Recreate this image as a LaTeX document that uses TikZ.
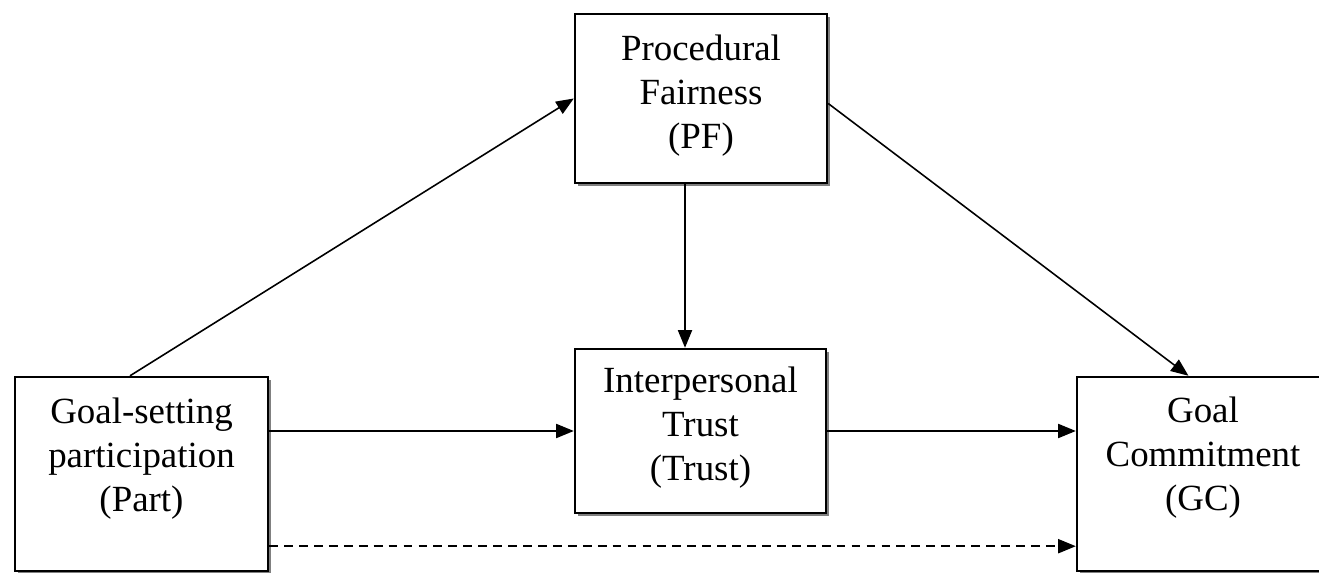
\documentclass[tikz,border=0pt]{standalone}
\usepackage{fontspec}
\setmainfont{Liberation Serif}
\usetikzlibrary{arrows.meta,shadows}

\tikzset{
    box/.style={draw, line width=1.4pt, fill=white, rectangle,
        drop shadow={shadow xshift=1.6pt, shadow yshift=-1.6pt, fill=black!50, opacity=1}},
    lbl/.style={align=center, font=\fontsize{21}{25}\selectfont, inner sep=0pt},
    link/.style={line width=0.9pt, -{Triangle[length=10pt,width=8pt]}}
}

\begin{document}
\begin{tikzpicture}[x=0.02cm, y=-0.02cm]
\useasboundingbox[fill=white] (0,0) rectangle (1319,573);

\node[box, minimum width=5.04cm, minimum height=3.38cm] (pf) at (701,98.5) {};
\node[lbl] (pftext) at (701,96) {Procedural\\Fairness\\(PF)};
\node[box, minimum width=5.02cm, minimum height=3.28cm] (trust) at (700.5,431) {};
\node[lbl] (trusttext) at (700.5,428) {Interpersonal\\Trust\\(Trust)};
\node[box, minimum width=5.06cm, minimum height=3.88cm] (part) at (141.5,474) {};
\node[lbl] (parttext) at (141.5,459) {Goal-setting\\participation\\(Part)};
\node[box, minimum width=5.06cm, minimum height=3.88cm] (gc) at (1203.5,474) {};
\node[lbl] (gctext) at (1203,458) {Goal\\Commitment\\(GC)};

\draw[link] ([xshift=-0.23cm]part.north) -- (pf.west);
\draw[link] ([yshift=-0.1cm]pf.east) -- ([xshift=-0.3cm]gc.north);
\draw[link] ([xshift=-0.32cm]pf.south) -- ([xshift=-0.32cm]pf.south |- trust.north);
\draw[link] (part.east |- trust.west) -- (trust.west);
\draw[link] (trust.east) -- (trust.east -| gc.west);
\draw[link, dash pattern=on 5pt off 3.5pt] ([yshift=0.52cm]part.south east) -- ([yshift=0.52cm]part.south east -| gc.west);
\end{tikzpicture}
\end{document}
